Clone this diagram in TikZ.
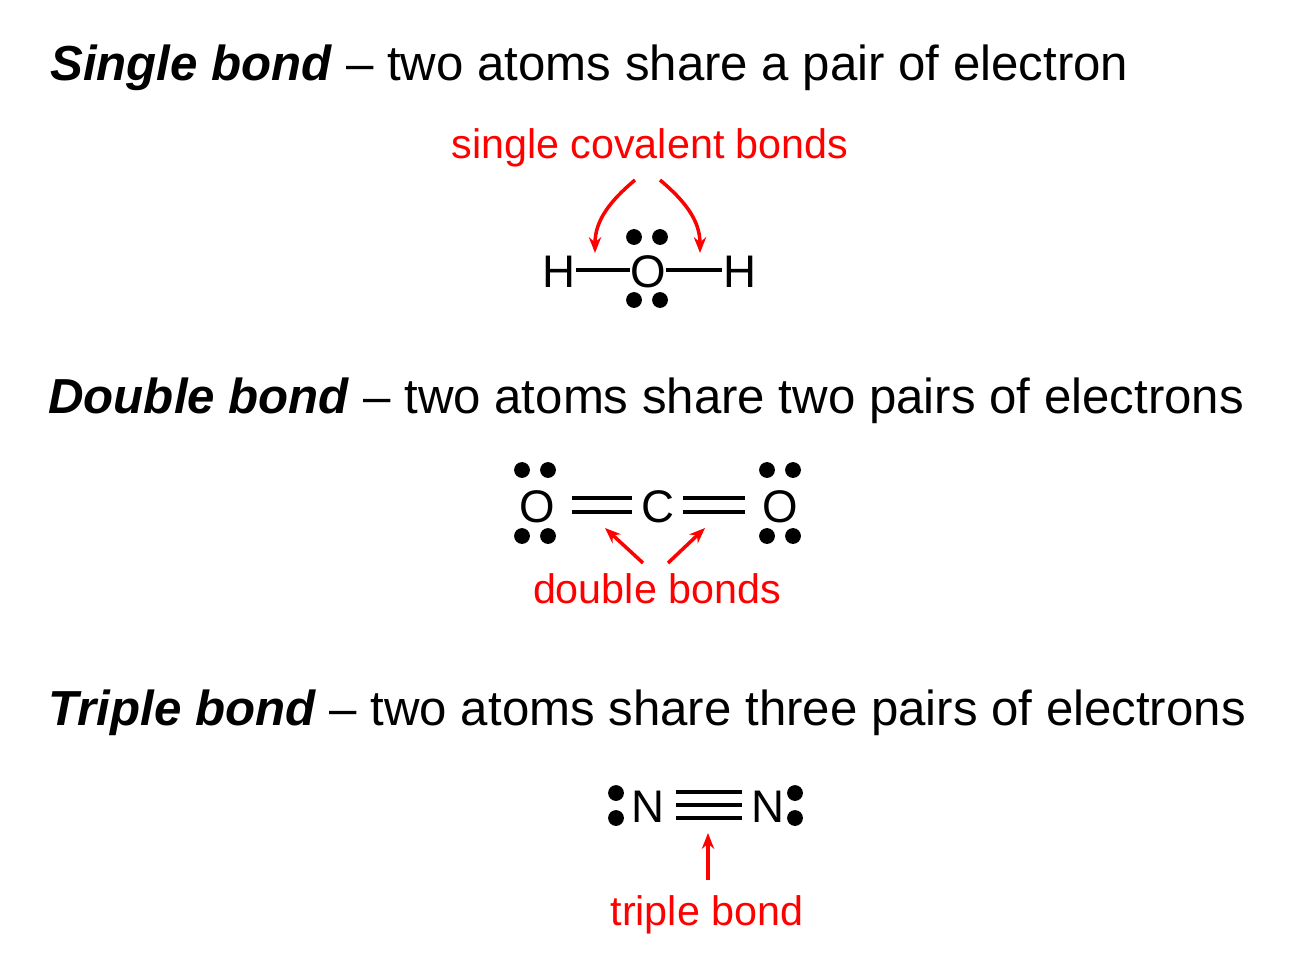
\documentclass[tikz,border=0pt]{standalone}
\usepackage{fontspec}
\setmainfont{Liberation Sans}
\usetikzlibrary{positioning,arrows.meta}

\begin{document}
\begin{tikzpicture}[x=0.02cm,y=-0.02cm]
\tikzstyle{head}=[anchor=base west, font=\fontsize{28}{32}\selectfont, inner sep=0]
\tikzstyle{atom}=[anchor=base, font=\fontsize{26}{30}\selectfont, inner sep=0]
\tikzstyle{note}=[anchor=base, text=red, font=\fontsize{23.5}{28}\selectfont, inner sep=0]
\tikzstyle{dot}=[circle, fill=black, inner sep=0, minimum size=9]
\tikzstyle{bond}=[line width=2.4pt]
\tikzstyle{connect}=[red, line width=2pt, -{Stealth[length=9pt,width=7pt]}]
\useasboundingbox (0,0) rectangle (1298,960);

% headings
\node[head] (hsingle) at (50,80) {\textbf{\textit{Single bond}} -- two atoms share a pair of electron};
\node[head] (hdouble) at (48,413) {\textbf{\textit{Double bond}} -- two atoms share two pairs of electrons};
\node[head] (htriple) at (48,725) {\textbf{\textit{Triple bond}} -- two atoms share three pairs of electrons};

% water
\node[atom] (h1) at (559,287) {H};
\node[atom] (o1) at (648,287) {O};
\node[atom] (h2) at (740,287) {H};
\foreach \x/\y [count=\i] in {634/237,660/237,634/300,660/300}
  \node[dot] (od\i) at (\x,\y) {};
\coordinate (b1a) at (576,270); \coordinate (b1b) at (630,270);
\coordinate (b2a) at (666,270); \coordinate (b2b) at (722,270);
\draw[bond] (b1a) -- (b1b);
\draw[bond] (b2a) -- (b2b);
\node[note] (lsingle) at (650,158) {single covalent bonds};
\coordinate (s1) at (635,180); \coordinate (s2) at (660,180);
\draw[connect] (s1) to[out=-140,in=90] (595,253);
\draw[connect] (s2) to[out=-40,in=90] (700,253);

% carbon dioxide
\node[atom] (o2) at (537,522) {O};
\node[atom] (c) at (658,522) {C};
\node[atom] (o3) at (780,522) {O};
\foreach \x/\y [count=\i] in {522/470,548/470,522/536,548/536,767/470,793/470,767/536,793/536}
  \node[dot] (cd\i) at (\x,\y) {};
\foreach \y in {498,512} {
  \draw[bond] (572,\y) -- (632,\y);
  \draw[bond] (683,\y) -- (745,\y);
}
\node[note] (ldouble) at (657,603) {double bonds};
\coordinate (d1) at (643,563); \coordinate (d2) at (668,563);
\draw[connect] (d1) -- (605,528);
\draw[connect] (d2) -- (705,528);

% nitrogen
\node[atom] (n1) at (648,822) {N};
\node[atom] (n2) at (768,822) {N};
\foreach \x/\y [count=\i] in {616/793,616/818,795/793,795/818}
  \node[dot] (nd\i) at (\x,\y) {};
\foreach \y in {792,805,818}
  \draw[bond] (676,\y) -- (742,\y);
\node[note] (ltriple) at (707,925) {triple bond};
\coordinate (t1) at (708,880);
\draw[connect] (t1) -- (708,833);
\end{tikzpicture}
\end{document}
